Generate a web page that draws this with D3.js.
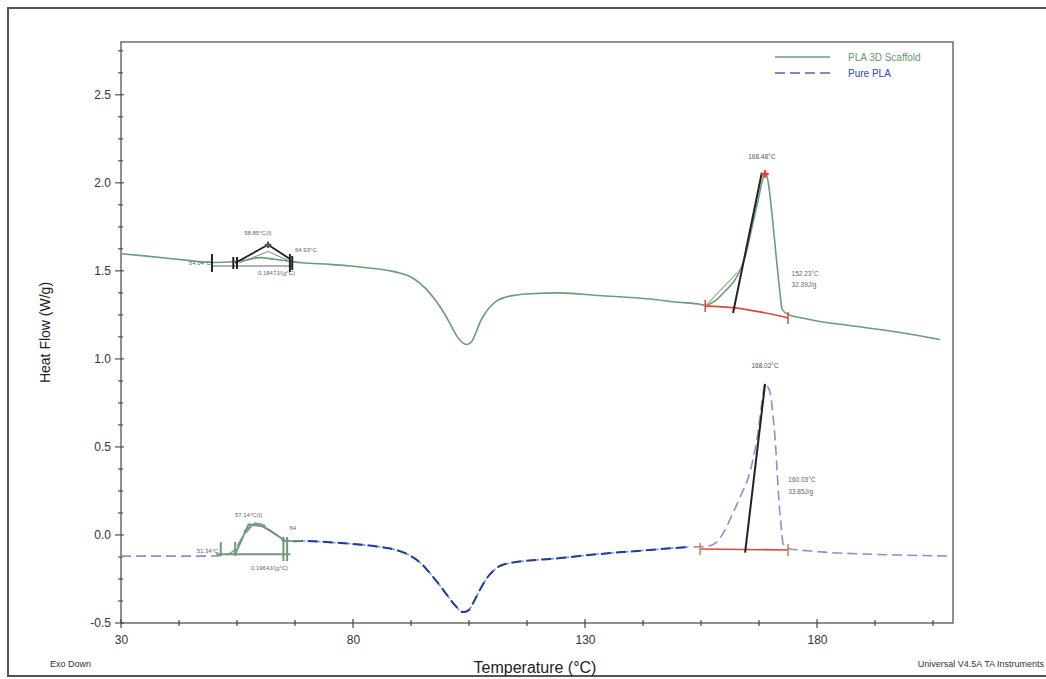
<!DOCTYPE html>
<html><head><meta charset="utf-8">
<script src="https://cdn.jsdelivr.net/npm/d3@7"></script>
<style>body{margin:0;background:#fff}svg{display:block;font-family:"Liberation Sans",Arial,sans-serif}</style>
</head><body>
<svg id="c" width="1046" height="679"></svg>
<script>
// ---- data (temperature °C, heat flow W/g) ----
const scaffoldT = [30,35,40,45,47,50,54,57,60,63,66,69,75,79.4,85,88,90,92.5,94.4,96.5,98.8,100.2,101.3,102.5,103.7,104.6,105.6,106.5,107.4,108.5,109.5,111,112.8,115,118,124.6,133,144,150,154.8,155.9,158,160,162.8,164.5,166,167.3,168.1,168.8,169.5,170.3,171.2,172,172.5,174,176.3,180,187,197.9,206.5];
const scaffoldV = [1.597,1.585,1.572,1.558,1.552,1.548,1.552,1.562,1.575,1.566,1.556,1.546,1.537,1.528,1.512,1.50,1.488,1.465,1.43,1.375,1.295,1.235,1.18,1.125,1.09,1.082,1.10,1.15,1.21,1.26,1.295,1.33,1.35,1.362,1.37,1.375,1.36,1.34,1.322,1.31,1.305,1.33,1.38,1.47,1.58,1.75,1.9,2.0,2.057,2.0,1.82,1.58,1.38,1.28,1.25,1.235,1.215,1.19,1.15,1.11];
const pureT = [30,40,48,51.3,53,54.6,56,57.5,58.9,60.5,62,63.5,65.3,67,69.7,75,79.4,85,88,90.1,92.5,94.4,96.5,98.8,100.5,102,103.7,104.8,105.6,106.6,107.8,109,110.6,112,113.8,118,122.5,133.2,144,152.6,155.9,158.4,160,161.6,163.5,165.6,167.3,168.1,168.8,169.4,169.9,170.5,171,171.4,171.8,172.3,172.7,174.2,178,182.8,190,197.9,208.7];
const pureV = [-0.12,-0.12,-0.12,-0.118,-0.11,-0.08,-0.02,0.03,0.065,0.06,0.03,0.0,-0.034,-0.035,-0.034,-0.042,-0.05,-0.065,-0.077,-0.092,-0.12,-0.155,-0.215,-0.29,-0.35,-0.40,-0.438,-0.43,-0.40,-0.35,-0.29,-0.24,-0.195,-0.172,-0.16,-0.145,-0.136,-0.108,-0.085,-0.068,-0.066,-0.04,0.02,0.108,0.22,0.364,0.59,0.75,0.858,0.84,0.807,0.68,0.534,0.36,0.19,0.04,-0.05,-0.08,-0.09,-0.10,-0.108,-0.114,-0.12];
const seriesNames = ["PLA 3D Scaffold","Pure PLA"];
const xMajorTicks = [30,80,130,180];
const yMajorTicks = [-0.5,0.0,0.5,1.0,1.5,2.0,2.5];
const xDomain = [30,209.3];
const yDomain = [-0.5,2.8];

// annotations (data units)
const topPeakLabel = "168.48°C", topAreaLabel = ["152.23°C","32.39J/g"];
const botPeakLabel = "168.02°C", botAreaLabel = ["160.03°C","33.85J/g"];
const topBaseline = [[155.9,1.30],[162.3,1.29],[167.7,1.267],[173.75,1.233]];
const topTangent = [[161.9,1.261],[168.1,2.057]];
const topOnset = [[155.9,1.30],[162.8,1.49]];
const botBaseline = [[154.8,-0.08],[173.75,-0.085]];
const botTangent = [[164.5,-0.10],[168.8,0.858]];
const tgTopLabels = ["54.04°C","58.85°C(I)","64.93°C","0.1847J/(g°C)"];
const tgBotLabels = ["51.34°C","57.14°C(I)","64","0.1964J/(g°C)"];

const svg = d3.select("#c");
const L=121,R=953,T=42,B=623;
const x = d3.scaleLinear().domain(xDomain).range([L,R]);
const y = d3.scaleLinear().domain(yDomain).range([B,T]);

// outer frame
svg.append("rect").attr("x",8).attr("y",8).attr("width",1050).attr("height",668)
  .attr("fill","none").attr("stroke","#555").attr("stroke-width",2);
// plot frame
svg.append("rect").attr("x",L).attr("y",T).attr("width",R-L).attr("height",B-T)
  .attr("fill","none").attr("stroke","#555").attr("stroke-width",1.3);

// axes
const xMinor = d3.range(30,209,12.5);
const yMinor = d3.range(-0.5,2.8001,0.125);
const ax = svg.append("g").attr("stroke","#444");
xMinor.forEach(v=>{const big=xMajorTicks.includes(v);
  ax.append("line").attr("x1",x(v)).attr("x2",x(v)).attr("y1",B-(big?4:3)).attr("y2",B+(big?5:3)).attr("stroke-width",1.2);});
yMinor.forEach(v=>{const big=yMajorTicks.some(t=>Math.abs(t-v)<1e-6);
  ax.append("line").attr("x1",L-(big?6:3)).attr("x2",L+(big?3:2)).attr("y1",y(v)).attr("y2",y(v)).attr("stroke-width",1.1);});
const xAxis = d3.axisBottom(x).tickValues(xMajorTicks).tickSize(0).tickPadding(12);
svg.append("g").attr("transform",`translate(0,${B})`).call(xAxis)
  .call(g=>g.select(".domain").remove())
  .selectAll("text").attr("font-size",12).attr("fill","#333").attr("font-family","Liberation Sans");
const yAxis = d3.axisLeft(y).tickValues(yMajorTicks).tickFormat(d=>d.toFixed(1)).tickSize(0).tickPadding(10);
svg.append("g").attr("transform",`translate(${L},0)`).call(yAxis)
  .call(g=>g.select(".domain").remove())
  .selectAll("text").attr("font-size",12).attr("fill","#333").attr("font-family","Liberation Sans");

// labels
svg.append("text").attr("transform",`translate(50,${(T+B)/2}) rotate(-90)`).attr("text-anchor","middle")
  .attr("font-size",14).attr("fill","#222").text("Heat Flow (W/g)");
svg.append("text").attr("x",535).attr("y",673).attr("text-anchor","middle").attr("font-size",16).attr("fill","#222").text("Temperature (°C)");
svg.append("text").attr("x",50).attr("y",667).attr("font-size",9).attr("fill","#333").text("Exo Down");
svg.append("text").attr("x",1044).attr("y",667).attr("text-anchor","end").attr("font-size",9).attr("fill","#333").text("Universal V4.5A TA Instruments");

const line = d3.line().x(d=>x(d[0])).y(d=>y(d[1])).curve(d3.curveMonotoneX);
const lineL = d3.line().x(d=>x(d[0])).y(d=>y(d[1]));
const scaf = scaffoldT.map((t,i)=>[t,scaffoldV[i]]);
const pure = pureT.map((t,i)=>[t,pureV[i]]);

// curves
svg.append("path").attr("d",line(scaf)).attr("fill","none").attr("stroke","#6a9e74").attr("stroke-width",1.6);
svg.append("path").attr("d",line(pure)).attr("fill","none").attr("stroke","#8494d2").attr("stroke-width",1.6).attr("stroke-dasharray","10,5");
svg.append("path").attr("d",line(pure.filter(d=>d[0]>=66&&d[0]<=153))).attr("fill","none").attr("stroke","#1f3c9e").attr("stroke-width",2).attr("stroke-dasharray","10,5");

// --- annotations: top peak
const ann = svg.append("g");
ann.append("path").attr("d",line(topBaseline)).attr("fill","none").attr("stroke","#e0463c").attr("stroke-width",1.6);
ann.append("path").attr("d",lineL(topOnset)).attr("fill","none").attr("stroke","#8fb394").attr("stroke-width",1.3);
ann.append("path").attr("d",lineL(topTangent)).attr("fill","none").attr("stroke","#222").attr("stroke-width",2);
[topBaseline[0],topBaseline[3]].forEach(p=>ann.append("line").attr("x1",x(p[0])).attr("x2",x(p[0])).attr("y1",y(p[1])-6).attr("y2",y(p[1])+6).attr("stroke","#e0463c").attr("stroke-width",1.5));
ann.append("path").attr("d",d3.symbol(d3.symbolCross,30)()).attr("transform",`translate(${x(168.8)},${y(2.05)})`).attr("fill","#e0463c");
ann.append("text").attr("x",x(168.1)).attr("y",y(2.057)-14).attr("text-anchor","middle").attr("font-size",6.5).attr("fill","#555").text(topPeakLabel);
topAreaLabel.forEach((s,i)=>ann.append("text").attr("x",x(174.5)).attr("y",y(1.47)+i*11).attr("font-size",6.5).attr("fill","#666").text(s));

// bottom peak
ann.append("path").attr("d",lineL(botBaseline)).attr("fill","none").attr("stroke","#e0463c").attr("stroke-width",1.6);
ann.append("path").attr("d",lineL(botTangent)).attr("fill","none").attr("stroke","#222").attr("stroke-width",2);
[botBaseline[0],botBaseline[1]].forEach(p=>ann.append("line").attr("x1",x(p[0])).attr("x2",x(p[0])).attr("y1",y(p[1])-6).attr("y2",y(p[1])+6).attr("stroke","#e07a3c").attr("stroke-width",1.5));
ann.append("text").attr("x",x(168.8)).attr("y",y(0.858)-16).attr("text-anchor","middle").attr("font-size",6.5).attr("fill","#555").text(botPeakLabel);
botAreaLabel.forEach((s,i)=>ann.append("text").attr("x",x(173.8)).attr("y",y(0.30)+i*12).attr("font-size",6.5).attr("fill","#666").text(s));

// top Tg annotation (black)
const tg = svg.append("g").attr("stroke","#222");
tg.append("line").attr("x1",x(49.6)).attr("x2",x(66.9)).attr("y1",y(1.528)).attr("y2",y(1.528)).attr("stroke","#999").attr("stroke-width",1.5);
tg.append("path").attr("d",lineL([[54.6,1.545],[61.7,1.648],[66.4,1.568]])).attr("fill","none").attr("stroke-width",1.8);
tg.append("path").attr("d",lineL([[55.5,1.545],[61.7,1.61],[66,1.56]])).attr("fill","none").attr("stroke","#888").attr("stroke-width",1);
[[49.6,9],[54.2,6],[55.0,6],[66.4,9],[66.9,7]].forEach(p=>tg.append("line").attr("x1",x(p[0])).attr("x2",x(p[0])).attr("y1",y(1.545)-p[1]).attr("y2",y(1.545)+p[1]).attr("stroke-width",2));
tg.append("path").attr("d",d3.symbol(d3.symbolCross,24)()).attr("transform",`translate(${x(61.7)},${y(1.648)})`).attr("fill","#555").attr("stroke","none");
const tgt = svg.append("g").attr("font-size",6).attr("fill","#666");
tgt.append("text").attr("x",x(49.3)).attr("y",y(1.545)+2).attr("text-anchor","end").text(tgTopLabels[0]);
tgt.append("text").attr("x",x(59.5)).attr("y",y(1.648)-10).attr("text-anchor","middle").text(tgTopLabels[1]);
tgt.append("text").attr("x",x(67.5)).attr("y",y(1.61)).text(tgTopLabels[2]);
tgt.append("text").attr("x",x(63.5)).attr("y",y(1.475)).attr("text-anchor","middle").text(tgTopLabels[3]);

// bottom Tg annotation (green)
const tb = svg.append("g").attr("stroke","#6f9a76");
tb.append("line").attr("x1",x(50.5)).attr("x2",x(66.5)).attr("y1",y(-0.11)).attr("y2",y(-0.11)).attr("stroke-width",2);
tb.append("path").attr("d",lineL([[54.6,-0.11],[57.5,0.06],[60.5,0.05],[65.3,-0.03]])).attr("fill","none").attr("stroke-width",2);
tb.append("path").attr("d",lineL([[56.5,0.02],[58.9,0.068],[62,0.03]])).attr("fill","none").attr("stroke-width",1.5);
tb.append("line").attr("x1",x(65)).attr("x2",x(69)).attr("y1",y(-0.034)).attr("y2",y(-0.034)).attr("stroke-width",1.5);
[[51.5,7],[54.6,7],[65.0,12],[65.8,12]].forEach(p=>tb.append("line").attr("x1",x(p[0])).attr("x2",x(p[0])).attr("y1",y(-0.08)-p[1]).attr("y2",y(-0.08)+p[1]).attr("stroke-width",2));
const tbt = svg.append("g").attr("font-size",6).attr("fill","#666");
tbt.append("text").attr("x",x(51)).attr("y",y(-0.10)).attr("text-anchor","end").text(tgBotLabels[0]);
tbt.append("text").attr("x",x(57.5)).attr("y",y(0.10)).attr("text-anchor","middle").text(tgBotLabels[1]);
tbt.append("text").attr("x",x(66.3)).attr("y",y(0.03)).text(tgBotLabels[2]);
tbt.append("text").attr("x",x(62)).attr("y",y(-0.20)).attr("text-anchor","middle").text(tgBotLabels[3]);

// legend
const lg = svg.append("g");
lg.append("line").attr("x1",775).attr("x2",830).attr("y1",57).attr("y2",57).attr("stroke","#6a9e74").attr("stroke-width",1.5);
lg.append("text").attr("x",848).attr("y",61).attr("font-size",10).attr("fill","#5e9a6a").text(seriesNames[0]);
lg.append("line").attr("x1",775).attr("x2",830).attr("y1",73).attr("y2",73).attr("stroke","#4f64c0").attr("stroke-width",1.5).attr("stroke-dasharray","10,5");
lg.append("text").attr("x",848).attr("y",77).attr("font-size",10).attr("fill","#2e46c0").text(seriesNames[1]);
</script>
</body></html>
